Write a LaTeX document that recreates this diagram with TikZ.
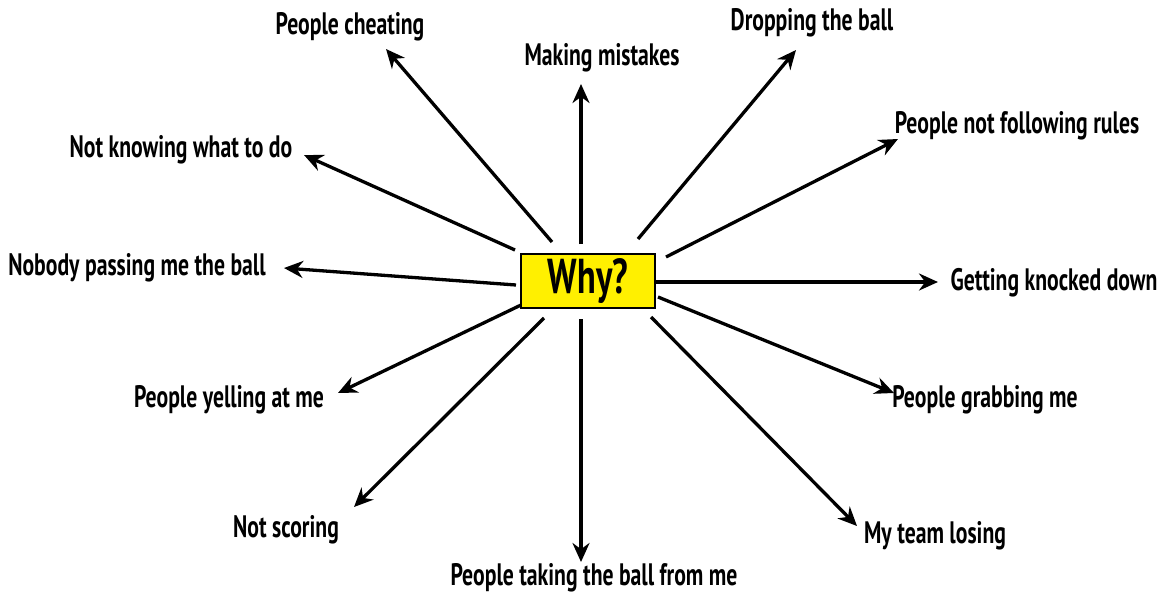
\documentclass[tikz,border=0pt]{standalone}
\usepackage{fontspec}
\newfontfamily\reasonfont{PT Sans}[FakeStretch=0.7]
\usepackage{tikz}
\usetikzlibrary{arrows.meta, positioning}

\definecolor{whyyellow}{RGB}{255,240,0}

\tikzset{
	reason/.style={font=\reasonfont\bfseries\fontsize{31}{34}\selectfont, inner sep=0pt},
	hub/.style={draw=black, line width=1.4pt, fill=whyyellow, minimum width=134pt, minimum height=54pt,
		font=\reasonfont\bfseries\fontsize{49}{52}\selectfont},
	why arrow/.style={line width=3.3pt, -{Stealth[length=19pt, width=17pt]}}
}

\begin{document}
\begin{tikzpicture}[x=1pt, y=-1pt]
	\useasboundingbox (0,0) rectangle (1164,595);

	\node[hub] (why) at (588,281) {Why?};

	% the reasons round the hub
	\node[reason] (cheat) at (350,27) {People cheating};
	\node[reason] (mistakes) at (602,58) {Making mistakes};
	\node[reason] (dropping) at (812,23) {Dropping the ball};
	\node[reason] (rules) at (1017,126) {People not following rules};
	\node[reason] (knowing) at (181,150) {Not knowing what to do};
	\node[reason] (passing) at (137,268) {Nobody passing me the ball};
	\node[reason] (knocked) at (1054,283) {Getting knocked down};
	\node[reason] (yelling) at (229,400) {People yelling at me};
	\node[reason] (scoring) at (286,530) {Not scoring};
	\node[reason] (taking) at (594,578) {People taking the ball from me};
	\node[reason] (grabbing) at (985,400) {People grabbing me};
	\node[reason] (losing) at (935,536) {My team losing};

	% where each arrow leaves the hub
	\coordinate (cheat-from) at (552,242);
	\coordinate (mistakes-from) at (581,244);
	\coordinate (dropping-from) at (638,239);
	\coordinate (rules-from) at (666,257);
	\coordinate (knowing-from) at (515,250);
	\coordinate (passing-from) at (516,285);
	\coordinate (knocked-from) at (656,282);
	\coordinate (yelling-from) at (521,305);
	\coordinate (scoring-from) at (544,318);
	\coordinate (taking-from) at (581,319);
	\coordinate (grabbing-from) at (658,297);
	\coordinate (losing-from) at (651,317);

	% where each arrow ends
	\coordinate (cheat-tip) at (386,49);
	\coordinate (mistakes-tip) at (581,84);
	\coordinate (dropping-tip) at (796,50);
	\coordinate (rules-tip) at (898,139);
	\coordinate (knowing-tip) at (304,155);
	\coordinate (passing-tip) at (284,268);
	\coordinate (knocked-tip) at (938,282);
	\coordinate (yelling-tip) at (338,393);
	\coordinate (scoring-tip) at (354,507);
	\coordinate (taking-tip) at (581,562);
	\coordinate (grabbing-tip) at (894,393);
	\coordinate (losing-tip) at (857,526);

	\draw[why arrow] (cheat-from) -- (cheat-tip);
	\draw[why arrow] (mistakes-from) -- (mistakes-tip);
	\draw[why arrow] (dropping-from) -- (dropping-tip);
	\draw[why arrow] (rules-from) -- (rules-tip);
	\draw[why arrow] (knowing-from) -- (knowing-tip);
	\draw[why arrow] (passing-from) -- (passing-tip);
	\draw[why arrow] (knocked-from) -- (knocked-tip);
	\draw[why arrow] (yelling-from) -- (yelling-tip);
	\draw[why arrow] (scoring-from) -- (scoring-tip);
	\draw[why arrow] (taking-from) -- (taking-tip);
	\draw[why arrow] (grabbing-from) -- (grabbing-tip);
	\draw[why arrow] (losing-from) -- (losing-tip);
\end{tikzpicture}
\end{document}
